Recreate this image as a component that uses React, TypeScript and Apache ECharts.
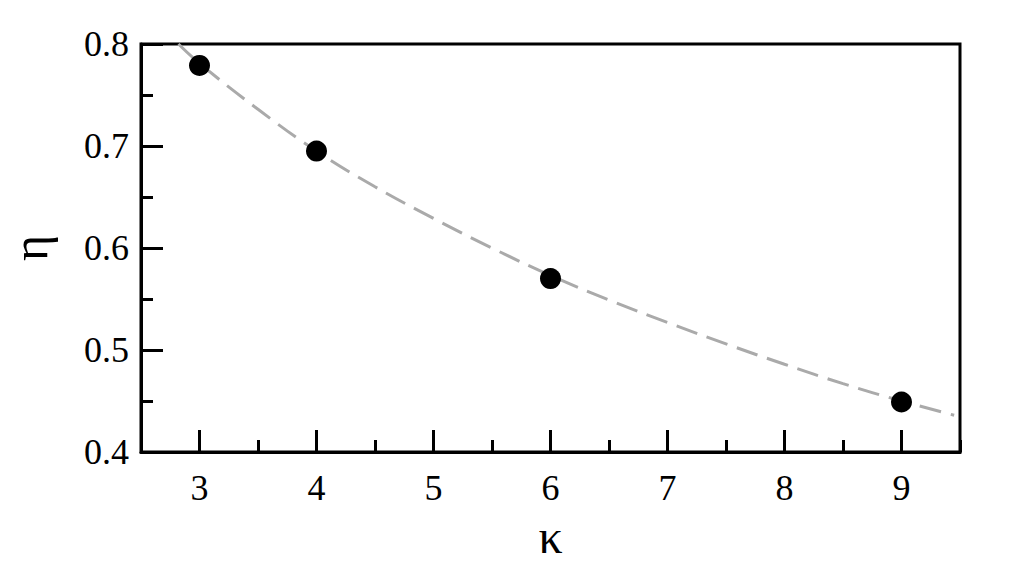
import React, { useEffect, useRef } from "react";
import * as echarts from "echarts";

const kappaPoints = [3, 4, 6, 9];
const etaPoints = [0.779, 0.695, 0.57, 0.449];

const fitKappa = [2.82, 3, 3.5, 4, 4.5, 5, 5.5, 6, 6.5, 7, 7.5, 8, 8.5, 9, 9.45];
const fitEta = [0.8, 0.781, 0.736, 0.695, 0.66, 0.629, 0.6, 0.573, 0.549, 0.527, 0.506, 0.486, 0.467, 0.45, 0.436];

const xMin = 2.5;
const xMax = 9.5;
const yMin = 0.4;
const yMax = 0.8;

const FONT = "Liberation Serif";

export default function App() {
  const ref = useRef<HTMLDivElement>(null);
  useEffect(() => {
    if (!ref.current) return;
    const chart = echarts.init(ref.current, null, { renderer: "svg" });
    const labelStyle = { color: "#000", fontFamily: FONT, fontSize: 36 };
    chart.setOption({
      animation: false,
      backgroundColor: "#fff",
      grid: {
        left: 141,
        right: 51,
        top: 44,
        bottom: 122,
        containLabel: false,
        outerBoundsMode: "none",
        show: true,
        borderColor: "#000",
        borderWidth: 3,
        backgroundColor: "transparent",
      },
      xAxis: [
        {
          type: "value",
          position: "bottom",
          min: xMin,
          max: xMax,
          splitNumber: 7,
          name: "κ",
          nameLocation: "middle",
          nameGap: 60,
          nameTextStyle: { color: "#000", fontFamily: FONT, fontSize: 48 },
          axisLine: { show: true, lineStyle: { color: "#000", width: 3 } },
          axisTick: { show: true, inside: true, length: 22, lineStyle: { color: "#000", width: 3 } },
          minorTick: { show: false },
          splitLine: { show: false },
          axisLabel: {
            ...labelStyle,
            margin: 18,
            showMinLabel: false,
            showMaxLabel: false,
            formatter: (v: number) => (Number.isInteger(v) ? String(v) : ""),
          },
        },
        {
          type: "value",
          position: "bottom",
          min: xMin,
          max: xMax,
          interval: 0.5,
          axisLine: { show: false },
          axisTick: { show: true, inside: true, length: 12, lineStyle: { color: "#000", width: 3 } },
          splitLine: { show: false },
          axisLabel: { show: false },
        },
      ],
      yAxis: {
        type: "value",
        min: yMin,
        max: yMax,
        interval: 0.1,
        name: "η",
        nameLocation: "middle",
        nameGap: 86,
        nameRotate: 90,
        nameTextStyle: { color: "#000", fontFamily: FONT, fontSize: 50 },
        axisLine: { show: true, lineStyle: { color: "#000", width: 3 } },
        axisTick: { show: true, inside: true, length: 22, lineStyle: { color: "#000", width: 3 } },
        minorTick: { show: true, splitNumber: 2, length: 12, lineStyle: { color: "#000", width: 3 } },
        splitLine: { show: false },
        minorSplitLine: { show: false },
        axisLabel: {
          ...labelStyle,
          margin: 12,
          formatter: (v: number) => v.toFixed(1),
        },
      },
      series: [
        {
          type: "line",
          xAxisIndex: 0,
          data: fitKappa.map((k, i) => [k, fitEta[i]]),
          smooth: 0.4,
          showSymbol: false,
          symbol: "none",
          lineStyle: { color: "#aaaaaa", width: 3, type: [22, 10] },
          silent: true,
          z: 2,
        },
        {
          type: "scatter",
          xAxisIndex: 0,
          data: kappaPoints.map((k, i) => [k, etaPoints[i]]),
          symbol: "circle",
          symbolSize: 21,
          itemStyle: { color: "#000", opacity: 1 },
          z: 3,
        },
      ],
    });
    return () => chart.dispose();
  }, []);
  return (
    <div
      ref={ref}
      style={{ position: "fixed", left: 0, top: 0, width: 1011, height: 574, background: "#fff" }}
    />
  );
}
